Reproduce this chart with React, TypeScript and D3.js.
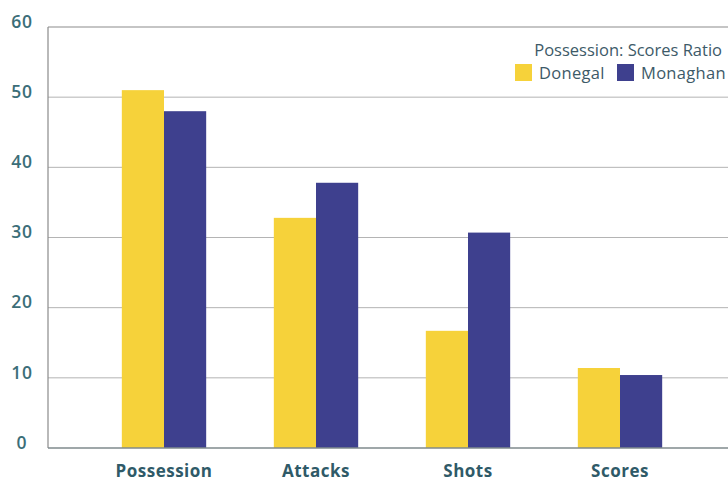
import React from "react";
import * as d3 from "d3";

const categories = ["Possession", "Attacks", "Shots", "Scores"];
const seriesNames = ["Donegal", "Monaghan"];
const donegal = [51, 32.8, 16.7, 11.4];
const monaghan = [48, 37.8, 30.7, 10.4];
const yTicks = [0, 10, 20, 30, 40, 50, 60];
const legendTitle = "Possession: Scores Ratio";

const colors = ["#f6d23a", "#3e408e"];
const W = 728, H = 481;
const plotLeft = 48, plotTop = 27, plotBottom = 448;

export default function App() {
  const y = d3.scaleLinear().domain([0, 60]).range([plotBottom, plotTop]);
  const x0 = d3.scaleBand<string>().domain(categories).range([88, 696]).paddingInner(0.445).paddingOuter(0.2225);
  const x1 = d3.scaleBand<string>().domain(seriesNames).range([0, x0.bandwidth()]).padding(0);
  const values = [donegal, monaghan];
  const font = "'Open Sans', 'Noto Sans', sans-serif";
  return (
    <svg width={W} height={H} style={{ position: "absolute", left: 0, top: 0, background: "#fff" }} fontFamily={font}>
      {yTicks.filter(t => t > 0 && t < 60).map(t => (
        <line key={t} x1={plotLeft} x2={W} y1={y(t)} y2={y(t)} stroke="#b4b4b4" strokeWidth={1} />
      ))}
      <line x1={plotLeft} x2={W} y1={y(60)} y2={y(60)} stroke="#8c8c8c" strokeWidth={1.2} />
      {categories.map((c, i) =>
        seriesNames.map((s, j) => (
          <rect key={c + s} x={(x0(c) as number) + (x1(s) as number)} y={y(values[j][i])}
            width={x1.bandwidth()} height={plotBottom - y(values[j][i])} fill={colors[j]} />
        ))
      )}
      <line x1={plotLeft} x2={plotLeft} y1={plotTop} y2={plotBottom} stroke="#8a8a8a" strokeWidth={1.2} />
      <line x1={plotLeft} x2={W} y1={plotBottom} y2={plotBottom} stroke="#7f8a8c" strokeWidth={1.5} />
      {yTicks.map(t => (
        <text key={t} x={22} y={y(t) - 4} textAnchor="middle" fontSize={17.5} fontWeight={600} letterSpacing={0.8} fill="#3b6e78" dominantBaseline="middle">{t}</text>
      ))}
      {categories.map(c => (
        <text key={c} x={(x0(c) as number) + x0.bandwidth() / 2} y={476.5} textAnchor="middle" fontSize={17} fontWeight={700} letterSpacing={0.5} fill="#2f5a68">{c}</text>
      ))}
      <text x={722} y={56} textAnchor="end" fontSize={16.5} fill="#3d5a68">{legendTitle}</text>
      <rect x={515} y={64} width={17} height={17} fill={colors[0]} />
      <text x={539} y={79} fontSize={16.5} letterSpacing={0.3} fill="#3d5a68">{seriesNames[0]}</text>
      <rect x={617} y={64} width={17} height={17} fill={colors[1]} />
      <text x={641} y={79} fontSize={16.5} letterSpacing={0.3} fill="#3d5a68">{seriesNames[1]}</text>
    </svg>
  );
}
